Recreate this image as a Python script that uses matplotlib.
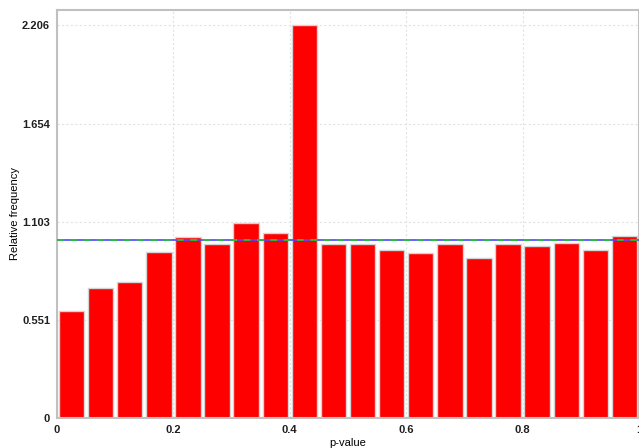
import numpy as np
import matplotlib
matplotlib.use("Agg")
from matplotlib import pyplot as plt

# p-value histogram, 20 bins over [0, 1]
bin_edges = np.linspace(0, 1, 21)
rel_freq = [0.601, 0.728, 0.765, 0.934, 1.018, 0.975, 1.093, 1.042, 2.206, 0.975,
            0.975, 0.943, 0.925, 0.975, 0.897, 0.975, 0.967, 0.982, 0.943, 1.022]
y_ticks = [0, 0.551, 1.103, 1.654, 2.206]
y_tick_labels = ["0", "0.551", "1.103", "1.654", "2.206"]
x_ticks = [0, 0.2, 0.4, 0.6, 0.8, 1.0]
x_tick_labels = ["0", "0.2", "0.4", "0.6", "0.8", "1"]
uniform_level = 1.0

plt.rcParams['font.family'] = ['Liberation Sans', 'DejaVu Sans']

fig = plt.figure(figsize=(6.39, 4.48), dpi=100)
ax = fig.add_axes([57 / 639, 30 / 448, 582 / 639, 408 / 448])

centers = (bin_edges[:-1] + bin_edges[1:]) / 2
ax.bar(centers, rel_freq, width=0.05 * 0.87, color='#ff0000',
       edgecolor='#d4d4d4', linewidth=1.0, zorder=2)

ax.axhline(uniform_level, color='#4a4aff', lw=1.2, zorder=3)
ax.axhline(uniform_level, color='#22cc22', lw=1.2, ls=(0, (4, 4)), zorder=4)

ax.set_xlim(0, 1)
ax.set_ylim(0, 2.292)
ax.set_xticks(x_ticks, x_tick_labels)
ax.set_yticks(y_ticks, y_tick_labels)
ax.tick_params(length=0, labelsize=8, pad=5)
for lab in ax.get_xticklabels() + ax.get_yticklabels():
    lab.set_fontweight('bold')
    lab.set_color('#202020')

ax.grid(True, color='#e2e2e2', lw=0.8, ls=(0, (2, 2)), zorder=0)
for s in ax.spines.values():
    s.set_color('#c0c0c0')
    s.set_linewidth(1.5)

ax.set_ylabel("Relative frequency", fontsize=8)
ax.yaxis.set_label_coords(-0.064, 0.5)
ax.set_xlabel("p-value", fontsize=8)
ax.xaxis.set_label_coords(0.5, -0.05)

fig.savefig("out.png", dpi=100)
